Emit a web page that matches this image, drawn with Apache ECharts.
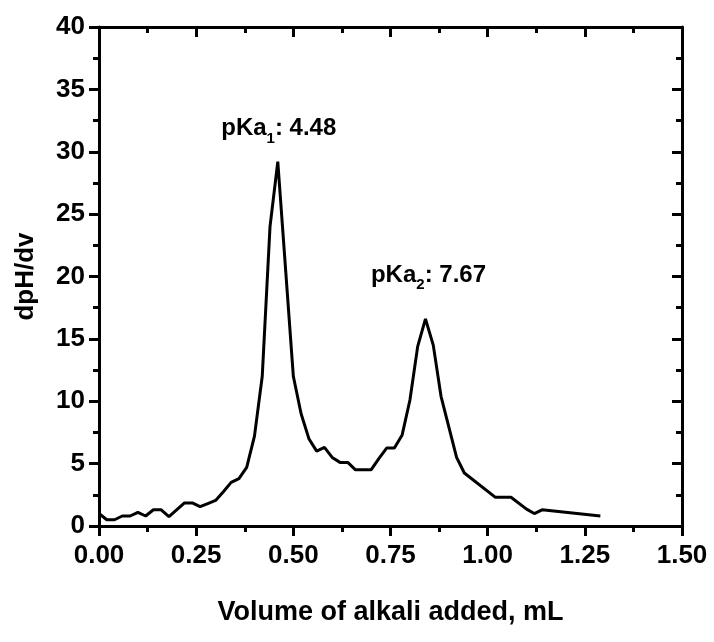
<!DOCTYPE html>
<html>
<head>
<meta charset="utf-8">
<script src="https://cdn.jsdelivr.net/npm/echarts@6/dist/echarts.min.js"></script>
<style>
  html, body { margin: 0; padding: 0; background: #fff; }
  #main { width: 714px; height: 642px; }
</style>
</head>
<body>
<div id="main"></div>
<script>
// volume of alkali added (mL) and dpH/dv
var volume = [0.00, 0.02, 0.04, 0.06, 0.08, 0.10, 0.12, 0.14, 0.16, 0.18,
    0.22, 0.24, 0.26, 0.28, 0.30, 0.32, 0.34, 0.36, 0.38, 0.40,
    0.42, 0.44, 0.46, 0.50, 0.52, 0.54, 0.56, 0.58, 0.60, 0.62,
    0.64, 0.66, 0.70, 0.72, 0.74, 0.76, 0.78, 0.80, 0.82, 0.84,
    0.86, 0.88, 0.92, 0.94, 1.02, 1.06, 1.10, 1.12, 1.14, 1.29];
var dphdv = [1.0, 0.5, 0.5, 0.8, 0.8, 1.1, 0.8, 1.3, 1.3, 0.75,
    1.85, 1.85, 1.55, 1.8, 2.05, 2.75, 3.5, 3.8, 4.7, 7.2,
    12.0, 24.0, 29.2, 12.0, 9.0, 7.0, 6.0, 6.3, 5.5, 5.1,
    5.1, 4.5, 4.5, 5.4, 6.25, 6.25, 7.3, 10.1, 14.4, 16.6,
    14.5, 10.4, 5.5, 4.25, 2.3, 2.3, 1.35, 1.0, 1.3, 0.8];

// peak annotations
var peakLabels = ['1: 4.48', '2: 7.67'];
var peakIndex = [22, 39];

var font = 'Liberation Sans';
var myChart = echarts.init(document.getElementById('main'));

var lineStyle = { color: '#000', width: 3 };

function axisBase(pos, showLabel) {
    var isX = pos === 'bottom' || pos === 'top';
    return {
        type: 'value',
        position: pos,
        min: 0,
        max: isX ? 1.5 : 40,
        interval: isX ? 0.25 : 5,
        axisLine: { show: true, onZero: false, lineStyle: lineStyle },
        axisTick: { show: true, inside: !showLabel, length: 10, lineStyle: lineStyle },
        minorTick: { show: true, splitNumber: 2, length: 6, lineStyle: lineStyle },
        splitLine: { show: false },
        axisLabel: {
            show: showLabel,
            color: '#000',
            fontFamily: font,
            fontWeight: 'bold',
            fontSize: 26,
            margin: isX ? 17 : 14,
            formatter: function (v) {
                return isX ? v.toFixed(2) : String(v);
            }
        }
    };
}

var xBottom = axisBase('bottom', true);
xBottom.name = 'Volume of alkali added, mL';
xBottom.nameLocation = 'middle';
xBottom.nameGap = 73;
xBottom.nameTextStyle = { color: '#000', fontFamily: font, fontWeight: 'bold', fontSize: 27 };

var yLeft = axisBase('left', true);
yLeft.name = 'dpH/dv';
yLeft.nameLocation = 'middle';
yLeft.nameGap = 60;
yLeft.nameTextStyle = { color: '#000', fontFamily: font, fontWeight: 'bold', fontSize: 26 };

var markData = peakIndex.map(function (idx, i) {
    return {
        coord: [volume[idx], dphdv[idx]],
        label: { offset: i === 0 ? [1, -33] : [3, -44] },
        value: peakLabels[i]
    };
});

option = {
    animation: false,
    backgroundColor: '#fff',
    grid: { left: 99, right: 32, top: 27, bottom: 116 },
    xAxis: [xBottom, axisBase('top', false)],
    yAxis: [yLeft, axisBase('right', false)],
    series: [
        {
            type: 'line',
            data: volume.map(function (v, i) { return [v, dphdv[i]]; }),
            showSymbol: false,
            lineStyle: { color: '#000', width: 3 },
            markPoint: {
                symbol: 'circle',
                symbolSize: 0,
                data: markData,
                label: {
                    show: true,
                    position: 'inside',
                    formatter: function (p) {
                        var parts = p.value.split(':');
                        return '{a|pKa}{s|' + parts[0] + '}{a|:' + parts[1] + '}';
                    },
                    rich: {
                        a: { fontFamily: font, fontWeight: 'bold', fontSize: 24, color: '#000', lineHeight: 24, verticalAlign: 'top' },
                        s: { fontFamily: font, fontWeight: 'bold', fontSize: 15, color: '#000', lineHeight: 15, padding: [20, 0, 0, 0] }
                    }
                }
            }
        }
    ]
};

myChart.setOption(option);
</script>
</body>
</html>
